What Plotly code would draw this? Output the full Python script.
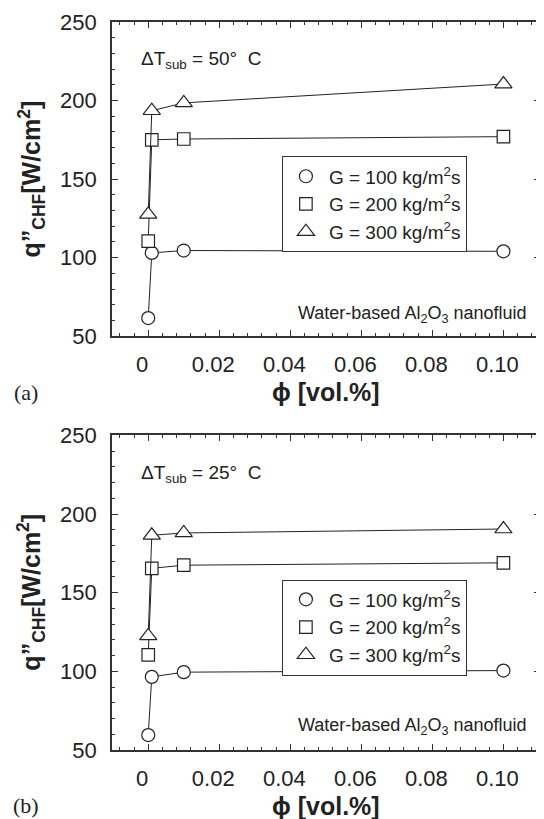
import plotly.graph_objects as go

phi = [0, 0.001, 0.01, 0.1]

# Panel (a): ΔT_sub = 50 °C
g100_a = [61.5, 103, 104.5, 104]
g200_a = [110.5, 175, 175.5, 177]
g300_a = [127.5, 193.5, 198.5, 210.5]

# Panel (b): ΔT_sub = 25 °C
g100_b = [59.5, 96.5, 99.5, 100.5]
g200_b = [110.5, 165.5, 167.5, 169]
g300_b = [122.5, 186.5, 188, 190.5]

series_names = ["G = 100 kg/m<sup>2</sup>s", "G = 200 kg/m<sup>2</sup>s", "G = 300 kg/m<sup>2</sup>s"]
symbols = ["circle", "square", "triangle-up"]
sizes = [13, 12.5, 15]

x_ticks = [0, 0.02, 0.04, 0.06, 0.08, 0.10]
x_ticktext = ["0", "0.02", "0.04", "0.06", "0.08", "0.10"]
y_ticks = [50, 100, 150, 200, 250]

FONT = "Liberation Sans, Arial, sans-serif"
INK = "#222222"

fig = go.Figure()

panels = [
    ("x", "y", [g100_a, g200_a, g300_a], "legend"),
    ("x2", "y2", [g100_b, g200_b, g300_b], "legend2"),
]

for xa, ya, vals, lg in panels:
    for name, sym, sz, v in zip(series_names, symbols, sizes, vals):
        fig.add_trace(go.Scatter(
            x=phi, y=v, xaxis=xa, yaxis=ya, mode="lines+markers",
            line=dict(color=INK, width=1),
            marker=dict(symbol=sym, size=sz, color="white", line=dict(color=INK, width=1.2)),
            showlegend=False, cliponaxis=False,
        ))
    for name, sym, sz in zip(series_names, symbols, sizes):
        fig.add_trace(go.Scatter(
            x=[None], y=[None], xaxis=xa, yaxis=ya, mode="markers", name=name,
            marker=dict(symbol=sym, size=sz, color="white", line=dict(color=INK, width=1.2)),
            showlegend=True, legend=lg,
        ))

axis_common = dict(
    showline=True, linecolor="#333333", linewidth=1.6, mirror="allticks",
    ticks="inside", ticklen=6, tickwidth=1.2, tickcolor="#333333",
    tickfont=dict(family=FONT, size=22, color=INK),
    showgrid=False, zeroline=False,
)

xa_opts = dict(axis_common, range=[-0.0102, 0.1103], tickvals=x_ticks, ticktext=x_ticktext,
               minor=dict(dtick=0.004, tick0=0, ticks="inside", ticklen=3, tickwidth=1, tickcolor="#333333"),
               ticklabelstandoff=8, ticklabelshift=-6)
ya_opts = dict(axis_common, range=[50, 250], tickvals=y_ticks,
               minor=dict(dtick=10, tick0=0, ticks="inside", ticklen=3, tickwidth=1, tickcolor="#333333"),
               ticklabelstandoff=9)

dom_a = [0.5685, 1.0]
dom_b = [0.0, 0.4321]

leg_common = dict(xanchor="left", yanchor="top",
                  bordercolor="#333333", borderwidth=1, bgcolor="white",
                  font=dict(family=FONT, size=19, color=INK), itemwidth=36,
                  tracegroupgap=0)

# the page body has an 8px margin, so the figure is 8px smaller than the window
fig.update_layout(
    width=536, height=811,
    margin=dict(l=104, r=2, t=9, b=69),
    paper_bgcolor="white", plot_bgcolor="white",
    xaxis=dict(xa_opts, anchor="y", domain=[0, 1]),
    yaxis=dict(ya_opts, anchor="x", domain=dom_a),
    xaxis2=dict(xa_opts, anchor="y2", domain=[0, 1]),
    yaxis2=dict(ya_opts, anchor="x2", domain=dom_b),
    legend=dict(leg_common, x=0.397, y=0.8154),
    legend2=dict(leg_common, x=0.397, y=0.2342),
    showlegend=True,
)

ann = []
txt_font = dict(family=FONT, size=19, color=INK)
ann.append(dict(text="ΔT<sub>sub</sub> = 50°  C", x=0.0635, y=0.9482, xanchor="left", yanchor="middle", font=txt_font))
ann.append(dict(text="ΔT<sub>sub</sub> = 25°  C", x=0.0635, y=0.3797, xanchor="left", yanchor="middle", font=txt_font))
wf = dict(family=FONT, size=18, color=INK)
ann.append(dict(text="Water-based Al<sub>2</sub>O<sub>3</sub> nanofluid", x=0.9744, y=0.5989, xanchor="right", yanchor="middle", font=wf))
ann.append(dict(text="Water-based Al<sub>2</sub>O<sub>3</sub> nanofluid", x=0.9744, y=0.0327, xanchor="right", yanchor="middle", font=wf))

title_font = dict(family=FONT, size=25, color=INK)
ann.append(dict(text="<b>ϕ [vol.%]</b>", x=0.5, y=0.4911, xanchor="center", yanchor="middle", font=title_font))
ann.append(dict(text="<b>ϕ [vol.%]</b>", x=0.5, y=-0.0764, xanchor="center", yanchor="middle", font=title_font))
ann.append(dict(text="<b>q”<sub>CHF</sub>[W/cm<sup>2</sup>]</b>", x=-0.188, y=0.7844, xanchor="center", yanchor="middle", textangle=-90, font=title_font))
ann.append(dict(text="<b>q”<sub>CHF</sub>[W/cm<sup>2</sup>]</b>", x=-0.188, y=0.2169, xanchor="center", yanchor="middle", textangle=-90, font=title_font))

lab_font = dict(family="Liberation Serif, Times New Roman, serif", size=22, color=INK)
ann.append(dict(text="(a)", x=-0.2, y=0.4911, xanchor="center", yanchor="middle", font=lab_font))
ann.append(dict(text="(b)", x=-0.2, y=-0.0764, xanchor="center", yanchor="middle", font=lab_font))

for a in ann:
    a.update(xref="paper", yref="paper", showarrow=False)
fig.update_layout(annotations=ann)

fig.write_html("out.html")
